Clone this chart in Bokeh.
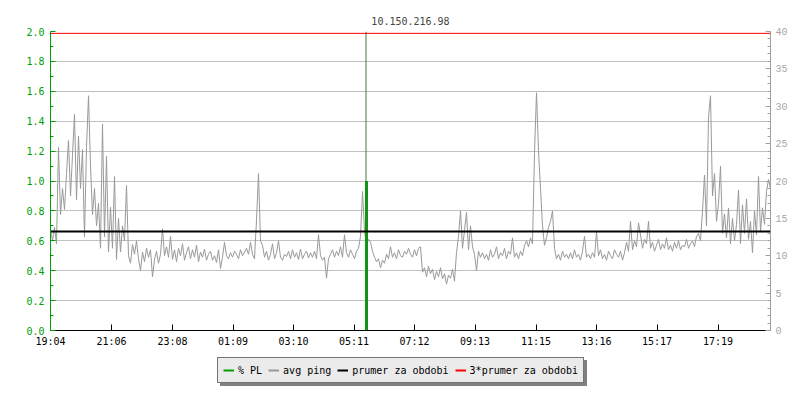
from bokeh.plotting import figure
from bokeh.layouts import column
from bokeh.models import (Range1d, LinearAxis, FixedTicker, SingleIntervalTicker,
                          NumeralTickFormatter, Span, Legend, LegendItem)
from bokeh.embed import file_html
from bokeh.resources import INLINE

# ---------------- data ----------------
title_text = "10.150.216.98"
tick_minutes = [0, 122, 244, 365, 486, 607, 728, 849, 971, 1092, 1213, 1335]
tick_labels = ["19:04", "21:06", "23:08", "01:09", "03:10", "05:11",
               "07:12", "09:13", "11:15", "13:16", "15:17", "17:19"]
period_minutes = 1440
sample_step_min = 4
legend_labels = ["% PL", "avg ping", "prumer za obdobi", "3*prumer za obdobi"]

ping_ms = [
    13.5, 12.0, 13.8, 11.6, 24.5, 15.5, 19.0, 16.2, 21.0, 25.4,
    18.0, 23.5, 28.9, 17.5, 26.0, 19.0, 24.2, 12.5, 24.5, 31.4,
    22.0, 15.5, 19.0, 14.0, 17.0, 11.0, 27.6, 12.5, 23.3, 10.5,
    16.5, 11.0, 20.6, 9.5, 15.0, 10.5, 14.0, 12.0, 19.4, 10.0,
    9.0, 11.5, 10.2, 12.0, 9.6, 8.0, 10.5, 9.2, 11.0, 9.8,
    10.8, 7.2, 9.5, 10.6, 9.0, 10.2, 13.6, 10.0, 11.2, 9.8,
    12.6, 9.5, 10.8, 9.2, 11.0, 10.0, 11.6, 9.4, 10.4, 11.2,
    9.6, 10.8, 9.8, 11.4, 9.2, 10.5, 9.8, 10.9, 9.4, 10.2,
    10.6, 9.4, 10.0, 9.1, 10.8, 8.3, 9.8, 11.8, 10.0, 9.6,
    10.4, 9.8, 10.6, 10.2, 9.6, 10.8, 10.0, 10.5, 11.0, 10.2,
    11.8, 10.2, 9.6, 14.8, 21.0, 12.0, 11.4, 9.8, 10.6, 9.4,
    10.2, 11.6, 9.6, 10.4, 12.0, 9.8, 9.4, 10.2, 9.9, 10.6,
    9.6, 10.8, 9.8, 10.4, 9.5, 10.9, 9.6, 10.2, 10.6, 9.7,
    10.4, 9.8, 10.6, 9.6, 12.8, 10.0, 9.4, 9.8, 7.0, 9.6,
    10.2, 10.8, 9.8, 10.6, 10.0, 11.2, 9.8, 12.8, 10.4, 9.8,
    10.8, 10.2, 9.6, 10.6, 11.0, 12.6, 18.6, 13.4, 11.4, 12.2,
    11.8, 10.6, 9.8, 9.2, 9.6, 8.4, 9.4, 9.0, 10.2, 9.6,
    11.2, 9.8, 10.4, 9.6, 10.8, 10.0, 9.8, 10.6, 10.2, 11.0,
    10.2, 9.8, 10.8, 10.0, 11.0, 11.2, 7.8, 8.4, 7.2, 8.6,
    7.6, 8.2, 6.8, 7.9, 7.2, 8.4, 6.9, 7.6, 6.2, 7.4,
    7.0, 8.2, 6.6, 10.4, 12.6, 16.0, 11.0, 13.4, 15.8, 10.8,
    14.0, 11.2, 10.2, 8.0, 10.6, 9.8, 10.4, 9.6, 10.2, 9.4,
    10.8, 9.8, 10.2, 11.2, 9.6, 10.4, 10.0, 11.0, 9.6, 10.6,
    10.2, 12.4, 9.8, 10.4, 9.6, 10.6, 10.0, 11.4, 12.0, 11.2,
    12.4, 11.6, 23.8, 31.8, 24.0, 19.0, 14.0, 11.4, 12.4, 13.8,
    14.6, 16.0, 11.0, 9.6, 10.2, 9.4, 10.6, 9.8, 10.2, 9.6,
    10.4, 9.6, 10.8, 9.8, 10.2, 9.4, 10.6, 12.6, 9.8, 10.2,
    9.6, 10.4, 9.8, 13.2, 10.0, 10.8, 9.6, 10.2, 9.4, 10.6,
    10.0, 9.6, 10.8, 10.2, 9.8, 10.6, 9.4, 10.4, 11.8, 10.6,
    14.6, 10.8, 12.0, 11.2, 14.4, 12.8, 11.0, 12.2, 11.6, 14.6,
    11.0, 11.8, 10.6, 11.4, 12.2, 10.8, 11.6, 11.0, 12.4, 10.8,
    11.4, 10.6, 11.8, 11.0, 12.0, 10.8, 11.4, 11.2, 12.2, 11.0,
    11.6, 12.0, 11.2, 12.6, 13.0, 12.0, 16.0, 20.8, 14.0, 28.6,
    31.4, 18.0, 21.0, 14.6, 17.0, 22.0, 13.0, 15.6, 12.4, 16.4,
    11.6, 15.0, 12.0, 14.2, 18.8, 11.6, 16.8, 13.0, 17.6, 12.2,
    14.6, 10.4, 16.0, 12.8, 20.6, 13.2, 16.4, 14.2, 18.6, 20.2,
    19.0,
]
ping_minutes = [i * sample_step_min for i in range(len(ping_ms))]

avg_ping_ms = 13.25
pl_event_minutes = [632]
pl_event_percent = [1.0]
pl_overflow_minutes = [631]

# ---------------- style ----------------
FONT = "DejaVu Sans Mono"
GREEN = "#00a000"
GRAY = "#999999"
AXGRAY = "#a0a0a0"

p = figure(frame_width=720, frame_height=299, output_backend="svg",
           toolbar_location=None, x_range=Range1d(0, period_minutes),
           y_range=Range1d(0, 2.0), min_border_left=50, min_border_right=29,
           min_border_top=31, min_border_bottom=20, title=title_text)
p.extra_y_ranges = {"ping": Range1d(0, 40)}
p.outline_line_color = None

p.title.align = "center"
p.title.text_font = FONT
p.title.text_font_size = "10px"
p.title.text_font_style = "normal"
p.title.standoff = 13

# left axis (% PL)
ya = p.yaxis[0]
ya.ticker = SingleIntervalTicker(interval=0.2, num_minor_ticks=2)
ya.formatter = NumeralTickFormatter(format="0.0")
ya.axis_line_color = GREEN
ya.major_tick_line_color = GREEN
ya.minor_tick_line_color = GREEN
ya.major_label_text_color = GREEN
ya.major_label_text_font = FONT
ya.major_label_text_font_size = "10px"
ya.major_tick_in = 5
ya.major_tick_out = 0
ya.minor_tick_in = 3
ya.minor_tick_out = 0
ya.major_label_standoff = 6

# right axis (ping ms)
ra = LinearAxis(y_range_name="ping",
                ticker=SingleIntervalTicker(interval=5, num_minor_ticks=5))
ra.axis_line_color = AXGRAY
ra.major_tick_line_color = AXGRAY
ra.minor_tick_line_color = AXGRAY
ra.major_label_text_color = "#a8a8a8"
ra.major_label_text_font = "Liberation Mono"
ra.major_label_text_font_size = "10px"
ra.major_tick_in = 5
ra.major_tick_out = 0
ra.minor_tick_in = 3
ra.minor_tick_out = 0
ra.major_label_standoff = 5
p.add_layout(ra, "right")

# bottom axis
xa = p.xaxis[0]
xa.ticker = FixedTicker(ticks=tick_minutes, minor_ticks=[])
xa.major_label_overrides = {m: l for m, l in zip(tick_minutes, tick_labels)}
xa.axis_line_color = "black"
xa.major_tick_line_color = "black"
xa.major_tick_in = 6
xa.major_tick_out = 0
xa.major_label_text_font = FONT
xa.major_label_text_font_size = "10px"
xa.major_label_text_color = "black"
xa.major_label_standoff = 5

p.xgrid.visible = False
p.ygrid.grid_line_color = "#c0c0c0"

# data glyphs
p.line(ping_minutes, ping_ms, y_range_name="ping", line_color=GRAY, line_width=1)
p.segment(x0=pl_event_minutes, y0=[0] * len(pl_event_minutes),
          x1=pl_event_minutes, y1=pl_event_percent,
          line_color=GREEN, line_width=3)
for m in pl_overflow_minutes:
    p.add_layout(Span(location=m, dimension="height", line_color="#3a7a3a", line_width=1))

p.add_layout(Span(location=avg_ping_ms, dimension="width", y_range_name="ping",
                  line_color="black", line_width=2))
p.add_layout(Span(location=3 * avg_ping_ms, dimension="width", y_range_name="ping",
                  line_color="red", line_width=1))

# ---------------- legend (separate strip below the chart) ----------------
lf = figure(width=799, height=49, output_backend="svg", toolbar_location=None,
            x_axis_location=None, y_axis_location=None, min_border=0,
            x_range=Range1d(0, 1), y_range=Range1d(0, 1))
lf.outline_line_color = None
lf.grid.visible = False

NAN = float("nan")
legend_colors = [GREEN, GRAY, "black", "red"]
dummy = [lf.line(x=[NAN, NAN], y=[NAN, NAN], line_color=c, line_width=2)
         for c in legend_colors]
ghost = [lf.line(x=[NAN, NAN], y=[NAN, NAN], line_color="white", line_alpha=0)
         for _ in legend_colors]

common = dict(orientation="horizontal", padding=5, spacing=6, label_standoff=4,
              glyph_width=11, glyph_height=12, label_height=14,
              label_text_font=FONT, label_text_font_size="10px", margin=0,
              background_fill_alpha=1, border_line_width=1)
SH = "#808080"
# shadow box: same size as the legend, blank (non-breaking space) labels
shadow_labels = ["\u00a0" * len(l) for l in legend_labels]
shadow = Legend(items=[LegendItem(label=l, renderers=[r]) for l, r in zip(shadow_labels, ghost)],
                location=(170, 13), background_fill_color=SH, border_line_color=SH,
                label_text_color=SH, **common)
legend = Legend(items=[LegendItem(label=l, renderers=[r]) for l, r in zip(legend_labels, dummy)],
                location=(167, 16), background_fill_color="#ebebeb",
                border_line_color="black", label_text_color="black", **common)
lf.add_layout(shadow, "center")
lf.add_layout(legend, "center")

layout = column(p, lf, spacing=0)
open("out.html", "w").write(file_html(layout, INLINE))
